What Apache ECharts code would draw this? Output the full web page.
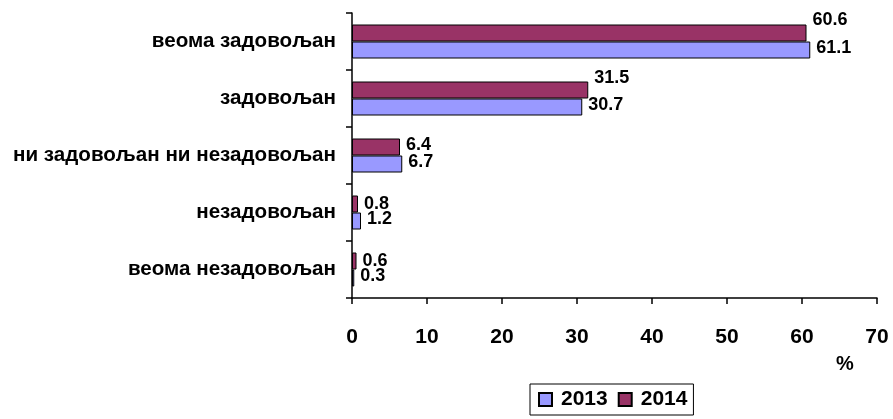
<!DOCTYPE html>
<html>
<head>
<meta charset="utf-8">
<script src="https://cdn.jsdelivr.net/npm/echarts@6/dist/echarts.min.js"></script>
<style>html,body{margin:0;padding:0;background:#fff}#c{width:893px;height:419px}</style>
</head>
<body>
<div id="c"></div>
<script>
// Categories listed from bottom to top (as drawn on the category axis)
var categories = ['веома незадовољан', 'незадовољан', 'ни задовољан ни незадовољан', 'задовољан', 'веома задовољан'];
var values2013 = [0.3, 1.2, 6.7, 30.7, 61.1];
var values2014 = [0.6, 0.8, 6.4, 31.5, 60.6];
var seriesNames = ['2013', '2014'];
var xTicks = [0, 10, 20, 30, 40, 50, 60, 70];
// label lift (px) for the 2014 data labels, as placed in the original
var labelLift2014 = [0, 0, 2, 12, 13];

var FONT = 'Liberation Sans, Arial, sans-serif';
var chart = echarts.init(document.getElementById('c'), null, {renderer: 'canvas'});

var lbl = {
  show: true, position: 'right', distance: 6,
  color: '#000', fontFamily: FONT, fontWeight: 'bold', fontSize: 18,
  formatter: function (p) { return p.value.toFixed(1); }
};

chart.setOption({
  animation: false,
  backgroundColor: '#fff',
  grid: {left: 352, right: 16, top: 13, bottom: 121, containLabel: false},
  xAxis: {
    type: 'value', min: xTicks[0], max: xTicks[xTicks.length - 1], interval: 10,
    axisLine: {show: true, lineStyle: {color: '#000', width: 1.5}},
    axisTick: {show: true, length: 6, lineStyle: {color: '#000', width: 1.5}},
    splitLine: {show: false},
    axisLabel: {color: '#000', fontFamily: FONT, fontWeight: 'bold', fontSize: 21, margin: 29}
  },
  yAxis: {
    type: 'category', data: categories,
    axisLine: {show: true, lineStyle: {color: '#000', width: 1.5}},
    axisTick: {show: true, length: 6, lineStyle: {color: '#000', width: 1.5}},
    axisLabel: {color: '#000', fontFamily: FONT, fontWeight: 'bold', fontSize: 20.6, margin: 16}
  },
  legend: {
    data: seriesNames,
    left: 530, top: 384,
    orient: 'horizontal',
    borderColor: '#000', borderWidth: 1, padding: [5, 6, 5, 8],
    itemWidth: 13, itemHeight: 13, itemGap: 10,
    icon: 'rect',
    textStyle: {color: '#000', fontFamily: FONT, fontWeight: 'bold', fontSize: 21, padding: [0, 0, 0, 4]}
  },
  graphic: [{
    type: 'text', left: 836, top: 354,
    style: {text: '%', fill: '#000', font: 'bold 20px ' + FONT}
  }],
  series: [
    {
      name: seriesNames[1], type: 'bar',
      data: values2014.map(function (v, i) {
        return {value: v, label: {offset: [0, -labelLift2014[i]]}};
      }),
      barWidth: 17, barGap: '0%',
      itemStyle: {color: '#993366', borderColor: '#000', borderWidth: 1},
      label: lbl
    },
    {
      name: seriesNames[0], type: 'bar', data: values2013,
      barWidth: 17, barGap: '0%',
      itemStyle: {color: '#9999FF', borderColor: '#000', borderWidth: 1},
      label: Object.assign({}, lbl, {offset: [0, -2]})
    }
  ]
});
</script>
</body>
</html>
